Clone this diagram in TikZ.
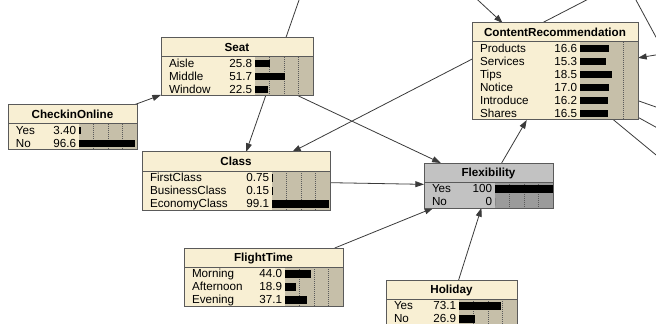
\documentclass[tikz,border=0pt]{standalone}
\usepackage{fontspec}
\setmainfont{Liberation Sans}
\usepackage{tikz}
\usetikzlibrary{arrows.meta,backgrounds}
\definecolor{netCream}{HTML}{F8EFD3}
\definecolor{netGray}{HTML}{C2C2C2}
\definecolor{netEdge}{HTML}{5A5A5A}
\definecolor{netLink}{HTML}{3A3A3A}

\begin{document}
\begin{tikzpicture}[
  x=0.75pt, y=-0.75pt,
  every node/.style={inner sep=0pt, outer sep=0pt, font=\fontsize{8.75}{10}\selectfont},
  netbox/.style={rectangle, anchor=north west},
  tick/.style={netEdge, line width=0.6pt, dash pattern=on 0.75pt off 0.75pt},
  rim/.style={netEdge, line width=0.75pt},
  pipe/.style={-{Triangle[length=6.5pt,width=4.5pt]}, netLink, line width=0.6pt},
]
  \useasboundingbox (0,0) rectangle (656,324);
  % nodes: name/left/top/width/height/title/colour/bar scale/grid/states
  \foreach \nm/\xl/\yt/\w/\h/\ttl/\bc/\scl/\grid/\rows in {%
    checkin/8/105/129/45/CheckinOnline/netCream/0.58/{25,50,75}/{Yes/3.40,No/96.6},%
    seat/161/38/152/58/Seat/netCream/0.58/{25,50,75}/{Aisle/25.8,Middle/51.7,Window/22.5},%
    class/142/152/188/58/Class/netCream/0.58/{25,50,75}/{FirstClass/0.75,BusinessClass/0.15,EconomyClass/99.1},%
    flex/424/163/129/45/Flexibility/netGray/0.58/{25,50,75}/{Yes/100,No/0},%
    flight/184/248/159/58/FlightTime/netCream/0.58/{25,50,75}/{Morning/44.0,Afternoon/18.9,Evening/37.1},%
    holiday/386/280/131/45/Holiday/netCream/0.58/{25,50,75}/{Yes/73.1,No/26.9},%
    content/472/23/166/97/ContentRecommendation/netCream/1.72/{25}/{Products/16.6,Services/15.3,Tips/18.5,Notice/17.0,Introduce/16.2,Shares/16.5}%
  }{
    \node[netbox, fill=\bc, minimum width=\w*0.75pt, minimum height=\h*0.75pt] (\nm) at (\xl,\yt) {};
    \fill[\bc!80!black] (\xl+\w-58,\yt+19) rectangle (\xl+\w,\yt+\h);
    \foreach \g in \grid \draw[tick] (\xl+\w-58+\g*\scl,\yt+19) -- (\xl+\w-58+\g*\scl,\yt+\h);
    \node[anchor=base] at (\xl+\w/2,\yt+13.7) {\bfseries\ttl};
    \draw[rim] (\xl,\yt+19) -- (\xl+\w,\yt+19);
    \foreach \lab/\val [count=\i] in \rows {
      \node[anchor=base west] at (\xl+8,\yt+16.7+13*\i) {\lab};
      \node[anchor=base east] at (\xl+\w-61,\yt+16.7+13*\i) {\val};
      \fill (\xl+\w-58,\yt+9+13*\i) rectangle (\xl+\w-58+\val*\scl,\yt+16.5+13*\i);
    }
    \draw[rim] (\nm.north west) rectangle (\nm.south east);
  }
  % ends of links leaving the picture
  \coordinate (srcA) at (306,-20);
  \coordinate (srcB) at (633,-24);
  \coordinate (srcC) at (467,-10);
  \coordinate (srcD) at (680,51);
  \coordinate (srcE) at (630,-11);
  \coordinate (dstA) at (690,119);
  \coordinate (dstB) at (690,146);
  \coordinate (dstC) at (690,183);
  \coordinate (dstE) at (670,63);
  \begin{pgfonlayer}{background}
    \foreach \a/\b in {checkin/seat,seat/flex,class/flex,flight/flex,holiday/flex,flex/content,srcA/class,srcB/class,srcC/content,srcD/content,content/dstA,content/dstB,content/dstC,srcE/dstE}\draw[pipe] (\a) -- (\b);
  \end{pgfonlayer}
\end{tikzpicture}
\end{document}
